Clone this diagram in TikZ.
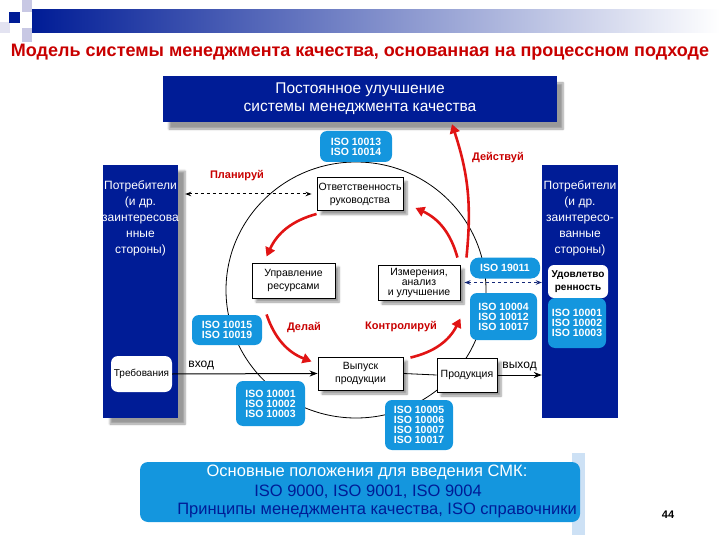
\documentclass[tikz,border=0pt]{standalone}
\usepackage{fontspec}
\setmainfont{Liberation Sans}
\usetikzlibrary{arrows.meta}
\usetikzlibrary{shadows.blur}
\usetikzlibrary{calc}
\definecolor{navy}{RGB}{0,28,150}
\definecolor{barmid}{RGB}{165,165,195}
\definecolor{sqlight}{RGB}{200,200,228}
\definecolor{isoblue}{RGB}{20,150,222}
\definecolor{stripblue}{RGB}{205,225,245}
\definecolor{titlered}{RGB}{200,0,0}
\definecolor{arrowred}{RGB}{225,20,20}
\definecolor{dashblue}{RGB}{20,40,120}

\begin{document}
\begin{tikzpicture}[x=1pt,y=-1pt,
	navybox/.style={fill=navy, inner sep=0pt},
	sidetext/.style={text=white, align=center, font=\fontsize{12}{16}\selectfont},
	isobox/.style={fill=isoblue, rounded corners=7pt, text=white, align=center, inner sep=0pt, font=\fontsize{10.5}{10}\selectfont\bfseries},
	procbox/.style={draw=black, fill=white, line width=0.9pt, align=center, inner sep=0pt, font=\fontsize{10.5}{13}\selectfont, blur shadow={shadow xshift=4pt, shadow yshift=-4pt, shadow blur steps=6}},
	whitebox/.style={fill=white, rounded corners=7pt, align=center, inner sep=0pt},
	redlabel/.style={text=titlered, font=\fontsize{11}{13}\selectfont\bfseries},
	redarrow/.style={draw=arrowred, line width=2.6pt, -{Triangle[length=9pt,width=10pt]}},
	dasharrow/.style={dashed, line width=1pt, {Stealth[length=6pt]}-{Stealth[length=6pt]}},
	flowarrow/.style={line width=1pt, -{Stealth[length=8pt,width=6pt]}}]
	\useasboundingbox (0,0) rectangle (720,540);
	% header
	\fill[sqlight] (22,0) rectangle (32,12);
	\fill[sqlight] (22,28) rectangle (32,42);
	\fill[sqlight!50] (0,22) rectangle (10,33);
	\fill[navy] (9,12) rectangle (20,23);
	\shade[left color=navy, middle color=barmid, right color=white] (32,10) rectangle (720,33);
	\node[text=titlered, font=\fontsize{18}{20}\selectfont\bfseries] (title) at (360,52) {Модель системы менеджмента качества, основанная на процессном подходе};

	% cycle
	\draw[line width=0.8pt] (356,290) ellipse [x radius=130, y radius=128];

	\node[navybox, minimum width=394, minimum height=46, text=white, align=center, font=\fontsize{15.5}{18}\selectfont, blur shadow={shadow xshift=6pt, shadow yshift=-7pt, shadow blur steps=6}] (improve) at (360,99) {Постоянное улучшение\\системы менеджмента качества};

	\node[navybox, minimum width=75, minimum height=253, blur shadow={shadow xshift=7pt, shadow yshift=-6pt, shadow blur steps=6}] (custL) at (140.5,291.5) {};
	\node[sidetext] (custLtxt) at (140.5,218) {Потребители\\(и др.\\заинтересова\\нные\\стороны)};
	\node[navybox, minimum width=76, minimum height=253] (custR) at (580,291.5) {};
	\node[sidetext] (custRtxt) at (580,218) {Потребители\\(и др.\\заинтересо-\\ванные\\стороны)};

	\node[whitebox, minimum width=61, minimum height=36, font=\fontsize{10}{12}\selectfont] (req) at (141.5,374) {Требования};
	\node[whitebox, minimum width=60, minimum height=33, rounded corners=6pt, font=\fontsize{10}{13}\selectfont\bfseries] (satisf) at (578,281.5) {Удовлетво\\ренность};
	\node[isobox, minimum width=58, minimum height=50] (isoR) at (577,323) {ISO 10001\\ISO 10002\\ISO 10003};

	\node[procbox, minimum width=86, minimum height=33] (resp) at (360,194) {Ответственность\\руководства};
	\node[procbox, minimum width=83, minimum height=35] (res) at (293.5,280.5) {Управление\\ресурсами};
	\node[procbox, minimum width=82, minimum height=35, font=\fontsize{10.5}{10}\selectfont] (meas) at (419,282.5) {Измерения,\\анализ\\и улучшение};
	\node[procbox, minimum width=85, minimum height=33] (rel) at (360.5,373.5) {Выпуск\\продукции};
	\node[procbox, minimum width=60, minimum height=34, font=\fontsize{10.5}{12}\selectfont] (prod) at (467,375) {Продукция};

	\node[isobox, minimum width=72, minimum height=31] (iso1314) at (356,146.5) {ISO 10013\\ISO 10014};
	\node[isobox, minimum width=70, minimum height=21, rounded corners=9pt] (iso19011) at (505,268) {ISO 19011};
	\node[isobox, minimum width=67, minimum height=47] (iso10004) at (503.5,316.5) {ISO 10004\\ISO 10012\\ISO 10017};
	\node[isobox, minimum width=70, minimum height=30] (iso1519) at (227,330) {ISO 10015\\ISO 10019};
	\node[isobox, minimum width=69, minimum height=45] (iso0103) at (270.5,403.5) {ISO 10001\\ISO 10002\\ISO 10003};
	\node[isobox, minimum width=68, minimum height=50] (iso0517) at (419,425) {ISO 10005\\ISO 10006\\ISO 10007\\ISO 10017};

	% labels
	\node[redlabel] (plan) at (237,176) {Планируй};
	\node[redlabel] (act) at (498,158) {Действуй};
	\node[redlabel] (do) at (304,328) {Делай};
	\node[redlabel] (check) at (401,327) {Контролируй};

	% connectors
	\draw[dasharrow, shorten <=7pt, shorten >=5pt] (resp.west -| custL.east) -- (resp.west);
	\draw[dasharrow, draw=dashblue, shorten <=4pt] (meas.east) -- (meas.east -| custR.west);
	\draw[flowarrow] (req.east) -- (rel.west) node[pos=0.2, above, font=\fontsize{12}{14}\selectfont] (in) {вход};
	\draw[line width=0.8pt] (rel.east) -- (prod.west);
	\draw[flowarrow] (prod.east) -- (prod.east -| custR.west) node[midway, above, font=\fontsize{12}{14}\selectfont] (out) {выход};

	\draw[redarrow] ($(resp.south west)+(0,3)$) to[bend right=25] ($(res.north west)+(15,-6)$);
	\draw[redarrow] ($(meas.north east)+(-3,-7)$) to[bend right=25] ($(resp.south east)+(12,-3)$);
	\draw[redarrow] ($(res.south west)+(15,16)$) to[bend right=25] ($(rel.north west)+(-6,5)$);
	\draw[redarrow] ($(rel.north east)+(7,1)$) to[bend right=25] ($(meas.south east)+(0,18)$);
	\draw[redarrow] ($(meas.north east)+(6,-7)$) to[bend right=12] ($(improve.south)+(92,2)$);

	% basics
	\fill[stripblue] (572,453) rectangle (585,535);
	\node[fill=isoblue, rounded corners=8pt, minimum width=440, minimum height=60, inner sep=0pt] (basics) at (360,492) {};
	\node[text=white, font=\fontsize{16.5}{19}\selectfont] (basics1) at (367,472) {Основные положения для введения СМК:};
	\node[text=navy, font=\fontsize{16.5}{19}\selectfont] (basics2) at (368,492) {ISO 9000, ISO 9001, ISO 9004};
	\node[text=navy, font=\fontsize{16.5}{19}\selectfont] (basics3) at (377,510) {Принципы менеджмента качества, ISO справочники};

	\node[font=\fontsize{11}{13}\selectfont\bfseries] (page) at (668,515) {44};
\end{tikzpicture}
\end{document}
